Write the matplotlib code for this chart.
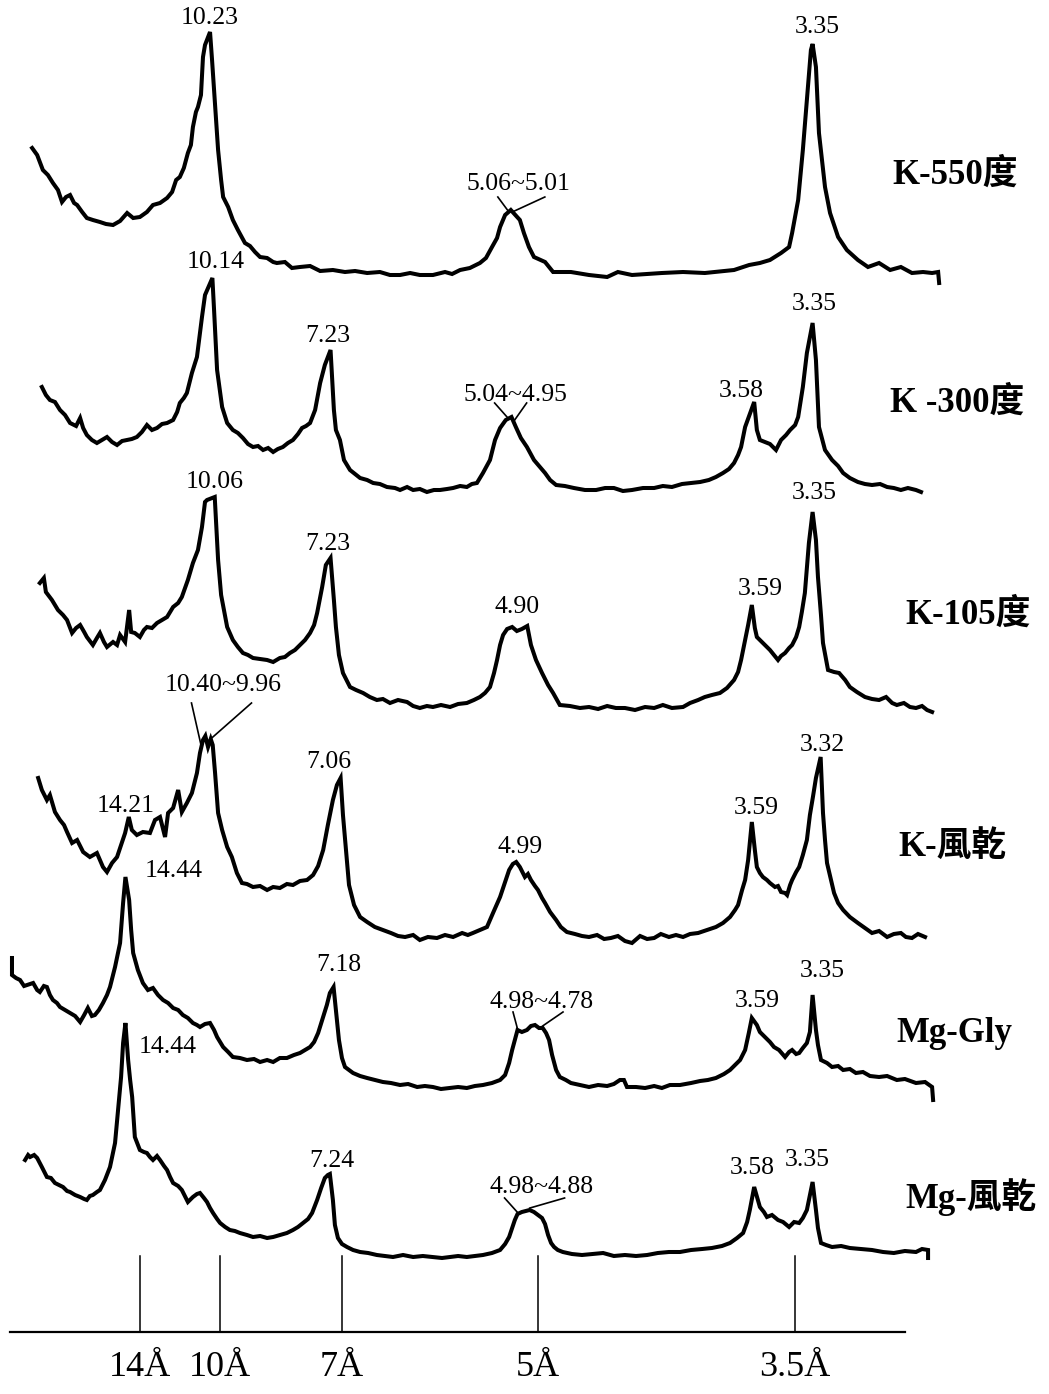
import numpy as np
import matplotlib
matplotlib.use("Agg")
import matplotlib.pyplot as plt

plt.rcParams['font.family'] = ['Liberation Serif', 'Noto Sans CJK TC', 'DejaVu Sans']

WAVELENGTH = 1.5406  # Cu K-alpha (Å)


def two_theta(d):
    return 2 * np.degrees(np.arcsin(WAVELENGTH / (2 * d)))


# Diffraction traces, (2-theta in degrees, relative intensity)
k550 = [(3.34, 132), (3.49, 125), (3.66, 110), (3.81, 105), (3.96, 97), (4.11, 90), (4.23, 78), (4.35, 83),
        (4.47, 85), (4.59, 77), (4.68, 75), (4.83, 68), (4.97, 62), (5.15, 60), (5.36, 58), (5.54, 56),
        (5.75, 55), (5.96, 59), (6.17, 67), (6.35, 62), (6.55, 63), (6.76, 68), (6.94, 75), (7.15, 77),
        (7.36, 82), (7.51, 88), (7.63, 100), (7.74, 103), (7.86, 112), (7.98, 127), (8.07, 135), (8.13, 153),
        (8.22, 168), (8.28, 173), (8.37, 185), (8.43, 223), (8.49, 235), (8.64, 248), (8.70, 220), (8.76, 190),
        (8.88, 130), (8.97, 100), (9.03, 83), (9.18, 73), (9.32, 60), (9.47, 50), (9.68, 37), (9.83, 34),
        (9.98, 28), (10.13, 23), (10.34, 22), (10.52, 18), (10.63, 17), (10.87, 18), (11.08, 12), (11.32, 13),
        (11.62, 14), (11.92, 9), (12.30, 10), (12.66, 8), (12.96, 9), (13.32, 7), (13.70, 8), (14.00, 5),
        (14.30, 5), (14.60, 7), (14.89, 5), (15.28, 5), (15.64, 8), (15.85, 6), (16.09, 10), (16.38, 12),
        (16.68, 17), (16.86, 22), (17.04, 33), (17.19, 42), (17.28, 53), (17.43, 65), (17.60, 70), (17.87, 60),
        (17.99, 47), (18.14, 33), (18.29, 23), (18.62, 18), (18.86, 8), (19.39, 8), (19.93, 5), (20.47, 3),
        (20.79, 8), (21.21, 5), (22.10, 7), (22.73, 8), (23.38, 7), (24.25, 10), (24.70, 15), (25.02, 17),
        (25.32, 20), (25.65, 27), (25.89, 33), (25.98, 47), (26.16, 80), (26.30, 130), (26.42, 180), (26.54, 230),
        (26.59, 236), (26.69, 213), (26.78, 147), (26.96, 93), (27.11, 67), (27.35, 43), (27.61, 30), (27.94, 20),
        (28.24, 13), (28.57, 17), (28.90, 10), (29.22, 13), (29.55, 7), (29.88, 8), (30.15, 7), (30.33, 8),
        (30.36, -3)]

k300 = [(3.63, 113), (3.75, 105), (3.87, 100), (4.02, 98), (4.17, 90), (4.32, 85), (4.47, 77), (4.65, 74),
        (4.77, 82), (4.86, 72), (4.97, 65), (5.12, 60), (5.27, 57), (5.42, 60), (5.57, 63), (5.72, 58),
        (5.87, 55), (6.02, 59), (6.17, 60), (6.31, 61), (6.46, 63), (6.61, 68), (6.76, 75), (6.91, 70),
        (7.06, 72), (7.21, 76), (7.36, 77), (7.54, 80), (7.66, 88), (7.74, 97), (7.86, 102), (7.95, 107),
        (8.10, 127), (8.25, 143), (8.40, 183), (8.49, 205), (8.71, 222), (8.76, 190), (8.85, 130), (9.00, 93),
        (9.15, 77), (9.32, 70), (9.47, 67), (9.62, 62), (9.77, 56), (9.92, 53), (10.07, 54), (10.22, 50),
        (10.37, 52), (10.52, 48), (10.66, 51), (10.81, 53), (10.96, 57), (11.11, 60), (11.26, 66), (11.38, 72),
        (11.50, 74), (11.62, 77), (11.77, 90), (11.92, 117), (12.06, 135), (12.23, 150), (12.33, 90), (12.39, 70),
        (12.51, 60), (12.63, 40), (12.81, 30), (13.11, 22), (13.32, 20), (13.50, 17), (13.70, 16), (13.91, 13),
        (14.15, 12), (14.30, 10), (14.51, 13), (14.69, 10), (14.89, 11), (15.10, 8), (15.31, 10), (15.49, 10),
        (15.70, 11), (15.88, 12), (16.09, 14), (16.29, 13), (16.44, 16), (16.59, 17), (16.77, 27), (16.98, 40),
        (17.13, 60), (17.28, 72), (17.45, 80), (17.62, 83), (17.75, 73), (17.90, 62), (18.08, 53), (18.29, 40),
        (18.47, 33), (18.62, 27), (18.77, 20), (18.95, 15), (19.21, 14), (19.48, 12), (19.81, 10), (20.14, 10),
        (20.41, 12), (20.67, 12), (20.94, 9), (21.21, 10), (21.54, 12), (21.87, 12), (22.13, 14), (22.40, 13),
        (22.70, 16), (22.97, 17), (23.24, 18), (23.50, 20), (23.71, 23), (23.92, 27), (24.10, 31), (24.25, 37),
        (24.37, 45), (24.46, 53), (24.58, 73), (24.85, 98), (24.93, 70), (25.02, 60), (25.17, 58), (25.32, 56),
        (25.50, 50), (25.65, 60), (25.80, 65), (25.92, 70), (26.07, 75), (26.16, 83), (26.30, 113), (26.42, 147),
        (26.59, 177), (26.69, 140), (26.78, 73), (26.96, 50), (27.17, 40), (27.35, 34), (27.50, 27), (27.70, 22),
        (27.94, 18), (28.15, 16), (28.36, 15), (28.60, 16), (28.81, 13), (29.01, 12), (29.22, 10), (29.43, 12),
        (29.67, 10), (29.82, 8)]

k105 = [(3.57, 132), (3.69, 137), (3.75, 123), (3.93, 115), (4.11, 105), (4.26, 100), (4.38, 95), (4.53, 82),
        (4.65, 87), (4.77, 90), (4.89, 83), (4.97, 78), (5.15, 70), (5.27, 77), (5.36, 82), (5.48, 73),
        (5.57, 68), (5.75, 73), (5.87, 70), (5.96, 80), (6.11, 73), (6.23, 105), (6.29, 83), (6.40, 82),
        (6.55, 78), (6.67, 85), (6.76, 88), (6.91, 87), (7.06, 92), (7.21, 95), (7.36, 98), (7.54, 108),
        (7.69, 112), (7.80, 118), (7.98, 135), (8.13, 152), (8.28, 165), (8.40, 188), (8.49, 213), (8.55, 215),
        (8.78, 218), (8.88, 155), (8.97, 120), (9.15, 88), (9.32, 75), (9.47, 68), (9.62, 62), (9.77, 60),
        (9.92, 57), (10.13, 56), (10.34, 55), (10.52, 53), (10.72, 57), (10.87, 58), (11.02, 62), (11.17, 65),
        (11.32, 70), (11.47, 75), (11.62, 82), (11.74, 90), (11.83, 102), (11.98, 128), (12.09, 150), (12.23, 157),
        (12.33, 115), (12.39, 88), (12.48, 60), (12.60, 42), (12.81, 28), (12.99, 25), (13.20, 22), (13.40, 18),
        (13.61, 15), (13.79, 16), (14.00, 12), (14.24, 15), (14.51, 13), (14.69, 9), (14.89, 7), (15.10, 9),
        (15.28, 8), (15.52, 10), (15.79, 8), (16.03, 11), (16.29, 12), (16.50, 15), (16.68, 18), (16.83, 22),
        (16.98, 28), (17.10, 42), (17.19, 55), (17.28, 70), (17.37, 80), (17.49, 86), (17.64, 88), (17.78, 84),
        (17.93, 86), (18.09, 89), (18.20, 70), (18.35, 55), (18.53, 42), (18.71, 30), (18.86, 22), (19.06, 10),
        (19.36, 9), (19.66, 7), (19.93, 8), (20.20, 6), (20.47, 9), (20.73, 7), (21.00, 7), (21.30, 5),
        (21.60, 8), (21.87, 7), (22.13, 10), (22.40, 7), (22.73, 8), (22.94, 12), (23.18, 15), (23.38, 18),
        (23.59, 20), (23.83, 22), (24.04, 27), (24.25, 35), (24.37, 43), (24.46, 55), (24.58, 75), (24.67, 90),
        (24.78, 110), (24.87, 87), (24.93, 78), (25.02, 75), (25.11, 72), (25.23, 68), (25.32, 65), (25.44, 60),
        (25.56, 55), (25.65, 59), (25.77, 62), (25.89, 67), (25.98, 70), (26.10, 78), (26.19, 88), (26.27, 103),
        (26.36, 122), (26.48, 172), (26.59, 203), (26.69, 175), (26.75, 138), (26.84, 100), (26.90, 72), (27.05, 45),
        (27.23, 43), (27.38, 42), (27.56, 35), (27.70, 28), (27.91, 23), (28.15, 18), (28.36, 16), (28.57, 15),
        (28.78, 18), (28.96, 12), (29.10, 10), (29.31, 12), (29.49, 8), (29.67, 7), (29.85, 9), (30.00, 5),
        (30.15, 3)]

k_air = [(3.52, 167), (3.63, 155), (3.78, 145), (3.87, 150), (4.02, 133), (4.17, 125), (4.29, 120), (4.38, 113),
         (4.53, 102), (4.68, 105), (4.86, 93), (5.06, 88), (5.27, 92), (5.45, 78), (5.57, 73), (5.72, 82),
         (5.87, 88), (5.96, 97), (6.11, 112), (6.22, 128), (6.31, 115), (6.46, 110), (6.64, 113), (6.85, 112),
         (7.00, 125), (7.15, 128), (7.30, 108), (7.39, 132), (7.54, 137), (7.69, 155), (7.80, 133), (7.95, 142),
         (8.10, 152), (8.25, 172), (8.34, 192), (8.43, 205), (8.50, 209), (8.58, 198), (8.66, 206), (8.72, 200),
         (8.79, 172), (8.88, 132), (9.00, 115), (9.15, 98), (9.29, 88), (9.44, 72), (9.59, 62), (9.74, 61),
         (9.92, 58), (10.13, 59), (10.34, 55), (10.52, 58), (10.72, 57), (10.93, 61), (11.11, 60), (11.32, 64),
         (11.53, 65), (11.71, 70), (11.86, 79), (12.01, 95), (12.15, 120), (12.30, 145), (12.42, 160), (12.53, 167),
         (12.60, 130), (12.69, 95), (12.78, 60), (12.93, 40), (13.11, 28), (13.32, 23), (13.55, 18), (13.79, 15),
         (14.03, 12), (14.24, 9), (14.45, 8), (14.69, 10), (14.89, 5), (15.13, 8), (15.40, 7), (15.64, 10),
         (15.88, 8), (16.15, 12), (16.32, 10), (16.47, 12), (16.68, 15), (16.89, 18), (17.07, 32), (17.28, 48),
         (17.43, 63), (17.55, 75), (17.66, 81), (17.76, 83), (17.87, 78), (18.02, 68), (18.11, 71), (18.20, 65),
         (18.32, 59), (18.41, 55), (18.53, 47), (18.62, 42), (18.77, 33), (18.95, 25), (19.09, 18), (19.27, 13),
         (19.51, 11), (19.72, 9), (19.93, 8), (20.17, 10), (20.38, 6), (20.58, 7), (20.79, 9), (21.00, 4),
         (21.21, 2), (21.45, 9), (21.66, 6), (21.87, 7), (22.07, 11), (22.31, 8), (22.52, 10), (22.73, 8),
         (22.94, 11), (23.18, 12), (23.44, 15), (23.71, 18), (23.92, 22), (24.13, 28), (24.28, 35), (24.37, 40),
         (24.49, 55), (24.58, 65), (24.67, 85), (24.78, 123), (24.87, 95), (24.93, 78), (25.02, 72), (25.11, 68),
         (25.23, 65), (25.32, 62), (25.47, 58), (25.56, 59), (25.65, 53), (25.77, 52), (25.83, 50), (25.92, 60),
         (25.98, 65), (26.10, 73), (26.19, 78), (26.30, 90), (26.42, 105), (26.51, 130), (26.60, 148), (26.69, 167),
         (26.83, 188), (26.90, 132), (26.96, 105), (27.02, 82), (27.14, 65), (27.23, 52), (27.35, 42), (27.50, 35),
         (27.70, 28), (27.94, 22), (28.15, 17), (28.36, 12), (28.57, 14), (28.81, 8), (29.01, 11), (29.22, 12),
         (29.37, 8), (29.55, 7), (29.73, 11), (29.94, 8)]

mg_gly = [(2.74, 137), (2.74, 120), (2.86, 117), (2.98, 115), (3.10, 109), (3.19, 110), (3.37, 112), (3.49, 105),
          (3.57, 103), (3.69, 109), (3.78, 108), (3.87, 100), (3.96, 95), (4.08, 92), (4.17, 88), (4.32, 85),
          (4.47, 82), (4.62, 79), (4.77, 73), (4.89, 80), (5.00, 87), (5.12, 79), (5.21, 80), (5.33, 85),
          (5.45, 92), (5.57, 100), (5.66, 108), (5.81, 128), (5.96, 152), (6.05, 192), (6.12, 218), (6.23, 195),
          (6.29, 165), (6.35, 142), (6.49, 125), (6.64, 112), (6.79, 105), (6.94, 107), (7.09, 100), (7.24, 95),
          (7.39, 92), (7.54, 87), (7.69, 85), (7.83, 80), (7.98, 77), (8.13, 72), (8.25, 70), (8.34, 68),
          (8.49, 71), (8.64, 72), (8.76, 65), (8.85, 58), (9.03, 48), (9.18, 43), (9.32, 38), (9.53, 37),
          (9.74, 35), (9.95, 36), (10.13, 33), (10.34, 35), (10.52, 33), (10.72, 37), (10.93, 37), (11.14, 40),
          (11.32, 42), (11.47, 45), (11.62, 48), (11.74, 53), (11.86, 62), (12.01, 78), (12.12, 90), (12.21, 102),
          (12.32, 108), (12.39, 85), (12.48, 55), (12.57, 37), (12.66, 28), (12.90, 22), (13.11, 19), (13.32, 17),
          (13.55, 15), (13.79, 13), (14.03, 12), (14.30, 10), (14.54, 11), (14.81, 8), (15.04, 9), (15.28, 8),
          (15.52, 6), (15.79, 7), (16.03, 8), (16.29, 7), (16.53, 9), (16.77, 10), (17.04, 12), (17.28, 15),
          (17.43, 20), (17.55, 32), (17.64, 45), (17.80, 65), (17.93, 63), (18.08, 65), (18.20, 69), (18.32, 70),
          (18.44, 67), (18.55, 67), (18.65, 62), (18.74, 55), (18.83, 40), (18.95, 25), (19.06, 18), (19.24, 15),
          (19.39, 12), (19.66, 10), (19.93, 8), (20.20, 10), (20.47, 9), (20.67, 11), (20.85, 15), (20.97, 15),
          (21.06, 8), (21.33, 8), (21.60, 7), (21.87, 9), (22.10, 7), (22.34, 10), (22.64, 10), (22.97, 12),
          (23.24, 14), (23.47, 15), (23.71, 17), (23.95, 21), (24.13, 25), (24.28, 30), (24.43, 35), (24.58, 45),
          (24.69, 62), (24.78, 77), (24.93, 70), (25.02, 63), (25.17, 58), (25.32, 53), (25.44, 48), (25.59, 45),
          (25.77, 38), (25.89, 43), (25.98, 45), (26.10, 41), (26.19, 42), (26.30, 47), (26.42, 52), (26.51, 63),
          (26.59, 100), (26.69, 65), (26.75, 50), (26.84, 35), (27.02, 32), (27.17, 28), (27.35, 29), (27.50, 25),
          (27.70, 26), (27.88, 22), (28.09, 23), (28.30, 19), (28.57, 18), (28.81, 19), (29.10, 15), (29.34, 16),
          (29.67, 12), (29.94, 13), (30.15, 8), (30.18, -5)]

mg_air = [(3.13, 100), (3.22, 105), (3.28, 103), (3.40, 105), (3.49, 102), (3.63, 93), (3.78, 83), (3.90, 82),
          (4.02, 77), (4.14, 75), (4.26, 73), (4.38, 69), (4.47, 68), (4.62, 65), (4.77, 63), (4.89, 61),
          (4.97, 60), (5.06, 64), (5.15, 65), (5.27, 68), (5.36, 70), (5.51, 80), (5.66, 93), (5.81, 117),
          (5.90, 150), (5.99, 183), (6.05, 217), (6.12, 237), (6.20, 200), (6.26, 180), (6.32, 163), (6.40, 123),
          (6.55, 110), (6.67, 108), (6.76, 107), (6.85, 103), (6.94, 100), (7.06, 104), (7.15, 100), (7.27, 94),
          (7.36, 90), (7.45, 83), (7.54, 77), (7.69, 74), (7.80, 70), (7.89, 64), (7.98, 58), (8.13, 63),
          (8.25, 66), (8.34, 67), (8.46, 62), (8.55, 58), (8.64, 52), (8.73, 47), (8.85, 41), (8.94, 37),
          (9.09, 33), (9.23, 30), (9.38, 29), (9.53, 27), (9.74, 25), (9.92, 23), (10.13, 24), (10.34, 22),
          (10.52, 23), (10.72, 25), (10.93, 27), (11.11, 30), (11.26, 33), (11.41, 37), (11.56, 41), (11.68, 47),
          (11.83, 60), (11.95, 72), (12.06, 82), (12.15, 85), (12.21, 86), (12.30, 60), (12.36, 35), (12.45, 22),
          (12.57, 16), (12.72, 13), (12.90, 10), (13.11, 8), (13.35, 7), (13.61, 5), (13.85, 4), (14.09, 3),
          (14.39, 5), (14.69, 3), (14.98, 4), (15.28, 3), (15.55, 2), (15.79, 3), (16.03, 4), (16.29, 3),
          (16.53, 4), (16.77, 5), (17.04, 7), (17.28, 10), (17.43, 16), (17.55, 23), (17.64, 32), (17.72, 40),
          (17.80, 46), (17.93, 48), (18.05, 49), (18.16, 50), (18.29, 48), (18.41, 45), (18.53, 42), (18.62, 36),
          (18.71, 25), (18.80, 17), (18.89, 13), (19.00, 10), (19.15, 8), (19.42, 6), (19.72, 5), (20.02, 6),
          (20.35, 7), (20.67, 4), (21.00, 5), (21.33, 4), (21.66, 5), (21.98, 7), (22.31, 8), (22.64, 8),
          (22.97, 10), (23.30, 11), (23.59, 12), (23.89, 14), (24.13, 17), (24.34, 22), (24.52, 27), (24.64, 38),
          (24.72, 50), (24.85, 73), (24.96, 60), (25.02, 53), (25.14, 48), (25.23, 43), (25.38, 45), (25.56, 40),
          (25.71, 38), (25.89, 33), (26.04, 38), (26.19, 37), (26.30, 42), (26.42, 50), (26.51, 65), (26.59, 78),
          (26.69, 50), (26.75, 32), (26.84, 17), (26.99, 15), (27.17, 13), (27.44, 14), (27.70, 12), (28.03, 11),
          (28.36, 10), (28.69, 8), (29.01, 7), (29.34, 9), (29.67, 8), (29.85, 11), (30.03, 10), (30.03, 2)]

sample_names = ["K-550度", "K -300度", "K-105度", "K-風乾", "Mg-Gly", "Mg-風乾"]
traces = [k550, k300, k105, k_air, mg_gly, mg_air]

# labelled d-spacings (Å) for each trace
peak_d = [
    [(10.23,), (5.06, 5.01), (3.35,)],
    [(10.14,), (7.23,), (5.04, 4.95), (3.58,), (3.35,)],
    [(10.06,), (7.23,), (4.90,), (3.59,), (3.35,)],
    [(10.40, 9.96), (14.21,), (7.06,), (4.99,), (3.59,), (3.32,)],
    [(14.44,), (7.18,), (4.98, 4.78), (3.59,), (3.35,)],
    [(14.44,), (7.24,), (4.98, 4.88), (3.58,), (3.35,)],
]

# reference spacings marked under the stack
ref_d_labels = ["14Å", "10Å", "7Å", "5Å", "3.5Å"]
ref_tick_tt = [6.55, 8.94, 12.57, 18.41, 26.07]

# ---- layout (figure drawn 1:1 in pixels vertically) ----
W, H = 1049, 1394
X0, DEG_PER_PX = 2.383, 0.02979
trace_offsets = [1114, 894, 679, 449, 299, 134]
# per label: (x nudge px, text height above trace offset)
label_layout = [
    [(0, 262), (8, 96), (5, 253)],
    [(3, 238), (-3, 164), (0, 105), (-13, 109), (2, 196)],
    [(0, 233), (-3, 171), (-10, 108), (8, 126), (2, 222)],
    [(12, 260), (-3, 139), (-12, 183), (4, 98), (4, 137), (2, 200)],
    [(48, 224), (5, 130), (12, 93), (5, 94), (10, 124)],
    [(42, 213), (2, 99), (18, 73), (-2, 92), (-5, 100)],
]
# leader lines for paired labels: (start dx left, start dx right, drop, end nudge left, end nudge right) in px
leader_layout = {
    (0, 1): (-21, 26, 13, 0, 0),
    (1, 2): (-21, 11, 8, -3, -7),
    (3, 0): (-32, 28, 18, -4, -8),
    (4, 2): (-29, 21, 10, 0, 0),
    (5, 2): (-37, 23, 11, 0, 0),
}
name_layout = [(28.96, 105), (28.90, 97), (29.34, 100), (29.16, 98), (29.10, 62), (29.34, 63)]

fig = plt.figure(figsize=(W / 100, H / 100), dpi=100)
ax = fig.add_axes([0, 0, 1, 1])
ax.set_xlim(X0, X0 + W * DEG_PER_PX)
ax.set_ylim(0, H)
ax.axis("off")

for i, (pts, off) in enumerate(zip(traces, trace_offsets)):
    tt = np.array([p[0] for p in pts])
    inten = np.array([p[1] for p in pts])
    ax.plot(tt, inten + off, color="black", lw=2.9, solid_joinstyle="miter")

    for j, ds in enumerate(peak_d[i]):
        dx, hy = label_layout[i][j]
        peaks_tt = [two_theta(d) for d in ds]
        lx = np.mean(peaks_tt) + dx * DEG_PER_PX
        ly = off + hy
        ax.text(lx, ly, "~".join(f"{d:.2f}" for d in ds), ha="center", va="center",
                fontsize=18.5)
        if (i, j) in leader_layout:
            sl, sr, drop, el, er = leader_layout[(i, j)]
            for s, e, p in ((sl, el, peaks_tt[0]), (sr, er, peaks_tt[1])):
                ex = p + e * DEG_PER_PX
                ey = off + np.interp(ex, tt, inten) + 2
                ax.plot([lx + s * DEG_PER_PX, ex], [ly - drop, ey], color="black", lw=1.2)

    nx, ny = name_layout[i]
    ax.text(nx, off + ny, sample_names[i], ha="left", va="center", fontsize=25,
            fontweight="bold")

# reference scale at the bottom
ax.plot([X0 + 10 * DEG_PER_PX, X0 + 905 * DEG_PER_PX], [62, 62], color="black", lw=1.6)
for t, lab in zip(ref_tick_tt, ref_d_labels):
    ax.plot([t, t], [62, 138], color="black", lw=1.1)
    ax.text(t, 27, lab, ha="center", va="center", fontsize=26)

fig.savefig("out.png", dpi=100, facecolor="white")
